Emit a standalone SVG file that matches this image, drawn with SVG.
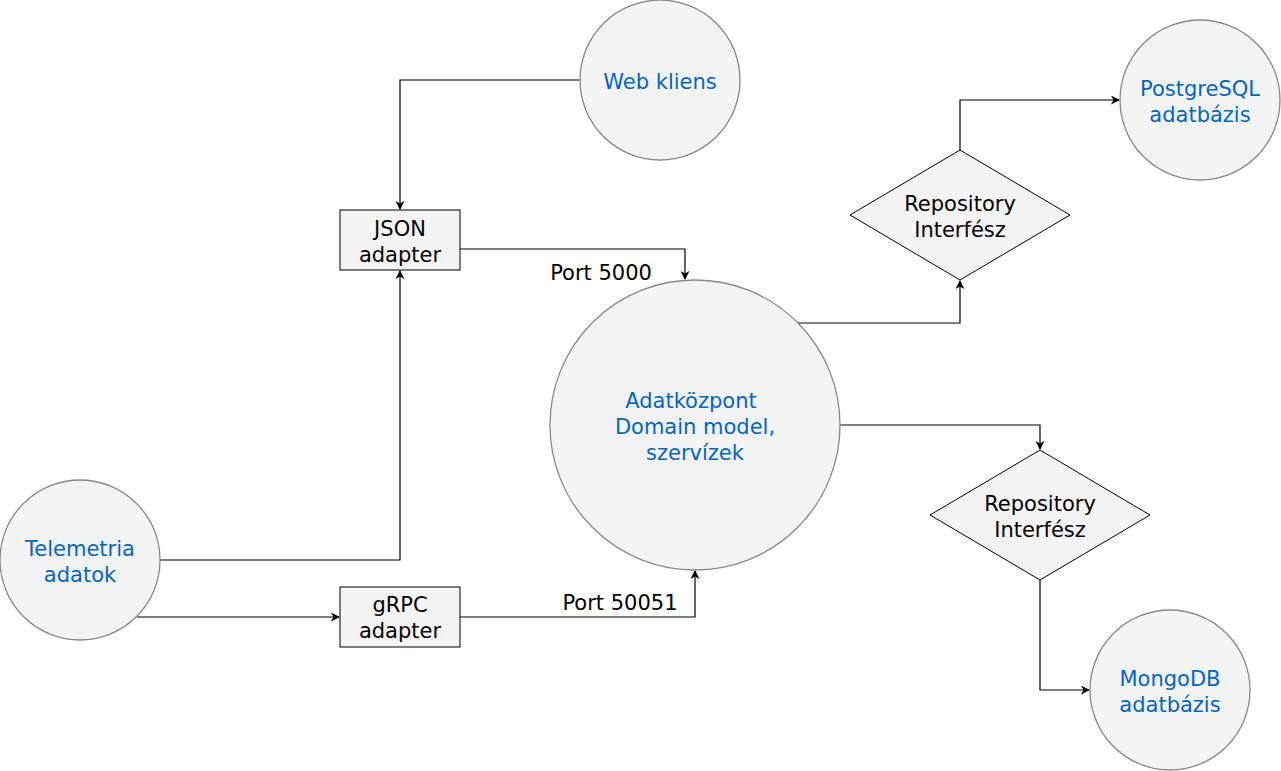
<svg xmlns="http://www.w3.org/2000/svg" width="1281" height="771" viewBox="0 0 1281 771">
<style>
.c{fill:#f4f4f4;stroke:#888888;stroke-width:1.3}
.b{fill:#f4f4f4;stroke:#000000;stroke-width:1}
.t{font-family:"DejaVu Sans","Verdana",sans-serif;font-size:21px;text-anchor:middle}
.bl{fill:#0066cc}
.k{fill:#000000}
.e{fill:none;stroke:#000000;stroke-width:1.2}
</style>
<defs>
<marker id="a" viewBox="0 0 10 10" refX="9" refY="5" markerWidth="9" markerHeight="9" markerUnits="userSpaceOnUse" orient="auto">
<path d="M0,0 L10,5 L0,10 L3,5 Z" fill="#000"/>
</marker>
</defs>
<rect width="1281" height="771" fill="#ffffff"/>
<g id="connectors">
<path class="e" d="M580,80 H400 V209" marker-end="url(#a)"/>
<path class="e" d="M460,249 H685 V279" marker-end="url(#a)"/>
<path class="e" d="M160,560 H400 V271" marker-end="url(#a)"/>
<path class="e" d="M137,617 H339" marker-end="url(#a)"/>
<path class="e" d="M460,617 H695 V571" marker-end="url(#a)"/>
<path class="e" d="M798,323 H960 V281" marker-end="url(#a)"/>
<path class="e" d="M960,150 V100 H1119" marker-end="url(#a)"/>
<path class="e" d="M840,425 H1040 V449" marker-end="url(#a)"/>
<path class="e" d="M1040,580 V690 H1089" marker-end="url(#a)"/>
<text class="t k" x="601" y="280">Port 5000</text>
<text class="t k" x="620" y="610">Port 50051</text>
</g>
<g id="web">
<circle class="c" cx="660" cy="80" r="80"/>
<text class="t bl" x="660" y="89">Web kliens</text>
</g>
<g id="postgres">
<circle class="c" cx="1200" cy="100" r="80"/>
<text class="t bl" x="1200" y="96">PostgreSQL</text>
<text class="t bl" x="1200" y="122">adatbázis</text>
</g>
<g id="json">
<rect class="b" x="340" y="210" width="120" height="60"/>
<text class="t k" x="400" y="236">JSON</text>
<text class="t k" x="400" y="262">adapter</text>
</g>
<g id="repo1">
<polygon class="b" points="960,150 1070,215 960,280 850,215"/>
<text class="t k" x="960" y="211">Repository</text>
<text class="t k" x="960" y="237">Interfész</text>
</g>
<g id="core">
<circle class="c" cx="695" cy="425" r="145"/>
<text class="t bl" x="691" y="408">Adatközpont</text>
<text class="t bl" x="695" y="434">Domain model,</text>
<text class="t bl" x="695" y="460">szervízek</text>
</g>
<g id="repo2">
<polygon class="b" points="1040,450 1150,515 1040,580 930,515"/>
<text class="t k" x="1040" y="511">Repository</text>
<text class="t k" x="1040" y="537">Interfész</text>
</g>
<g id="telemetria">
<circle class="c" cx="80" cy="560" r="80"/>
<text class="t bl" x="80" y="556">Telemetria</text>
<text class="t bl" x="80" y="582">adatok</text>
</g>
<g id="grpc">
<rect class="b" x="340" y="587" width="120" height="60"/>
<text class="t k" x="400" y="612">gRPC</text>
<text class="t k" x="400" y="638">adapter</text>
</g>
<g id="mongo">
<circle class="c" cx="1170" cy="690" r="80"/>
<text class="t bl" x="1170" y="686">MongoDB</text>
<text class="t bl" x="1170" y="712">adatbázis</text>
</g>
</svg>
